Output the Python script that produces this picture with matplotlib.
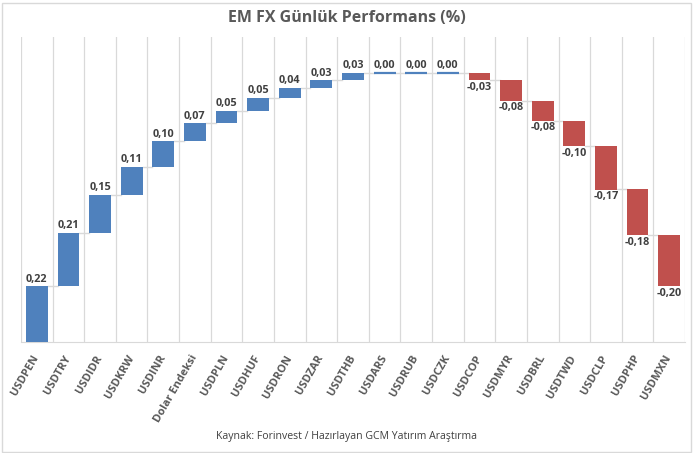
import matplotlib
matplotlib.use("Agg")
import matplotlib.pyplot as plt
from matplotlib.patches import Rectangle

categories = ["USDPEN", "USDTRY", "USDIDR", "USDKRW", "USDINR", "Dolar Endeksi", "USDPLN",
              "USDHUF", "USDRON", "USDZAR", "USDTHB", "USDARS", "USDRUB", "USDCZK", "USDCOP",
              "USDMYR", "USDBRL", "USDTWD", "USDCLP", "USDPHP", "USDMXN"]
values = [0.22, 0.21, 0.15, 0.11, 0.10, 0.07, 0.05, 0.05, 0.04, 0.03, 0.03, 0.00, 0.00, 0.00,
          -0.03, -0.08, -0.08, -0.10, -0.17, -0.18, -0.20]
title = "EM FX Günlük Performans (%)"
source = "Kaynak: Forinvest / Hazırlayan GCM Yatırım Araştırma"

plt.rcParams['font.family'] = ['Open Sans', 'DejaVu Sans']

W, H = 693, 453
fig = plt.figure(figsize=(W / 100, H / 100), dpi=100)
fig.patch.set_facecolor("white")
# chart border
fig.add_artist(Rectangle((1.5 / W, 1.5 / H), (W - 4) / W, (H - 4) / H, transform=fig.transFigure,
                         fill=False, edgecolor="#D9D9D9", linewidth=1))

left, right, top, bottom = 21, 685, 37, 342
ax = fig.add_axes([left / W, (H - bottom) / H, (right - left) / W, (bottom - top) / H])

blue = "#4F81BD"
red = "#C0504D"
n = len(categories)
bw = 0.69
cum = 0.0
for i, v in enumerate(values):
    start = cum
    end = cum + v
    bot = min(start, end)
    h = abs(v)
    col = blue if v >= 0 else red
    ax.bar(i, h, bottom=bot, width=bw, color=col, edgecolor=col if h == 0 else "none",
           linewidth=1.6 if h == 0 else 0, zorder=3)
    lab = f"{v:.2f}".replace(".", ",")
    if v >= 0:
        ax.text(i, end + 0.006, lab, ha="center", va="bottom", fontsize=7.8,
                fontweight="bold", color="#404040", zorder=4)
    else:
        ax.text(i, end - 0.006, lab, ha="center", va="top", fontsize=7.8,
                fontweight="bold", color="#404040", zorder=4)
    if i < n - 1:
        ax.plot([i + bw / 2, i + 1 - bw / 2], [end, end], color="#D9D9D9", lw=1, zorder=2)
    cum = end

ax.set_xlim(-0.5, n - 0.5)
ax.set_ylim(0, 1.2)
for x in [k - 0.5 for k in range(n + 1)]:
    ax.axvline(x, color="#D9D9D9", lw=0.9, zorder=1)
for s in ["top", "right", "left"]:
    ax.spines[s].set_visible(False)
ax.spines["bottom"].set_color("#D9D9D9")
ax.set_yticks([])
ax.set_xticks(range(n))
ax.set_xticklabels(categories, rotation=60, ha="right", va="center", rotation_mode="anchor",
                   fontsize=8, fontweight="bold", color="#595959")
ax.tick_params(axis="x", length=0, pad=10)

fig.text(0.5, 1 - 18 / H, title, ha="center", va="center", fontsize=11.5, fontweight="bold",
         color="#595959")
fig.text(0.5, 1 - 437 / H, source, ha="center", va="center", fontsize=7.6, color="#404040")

fig.savefig("out.png", dpi=100)
